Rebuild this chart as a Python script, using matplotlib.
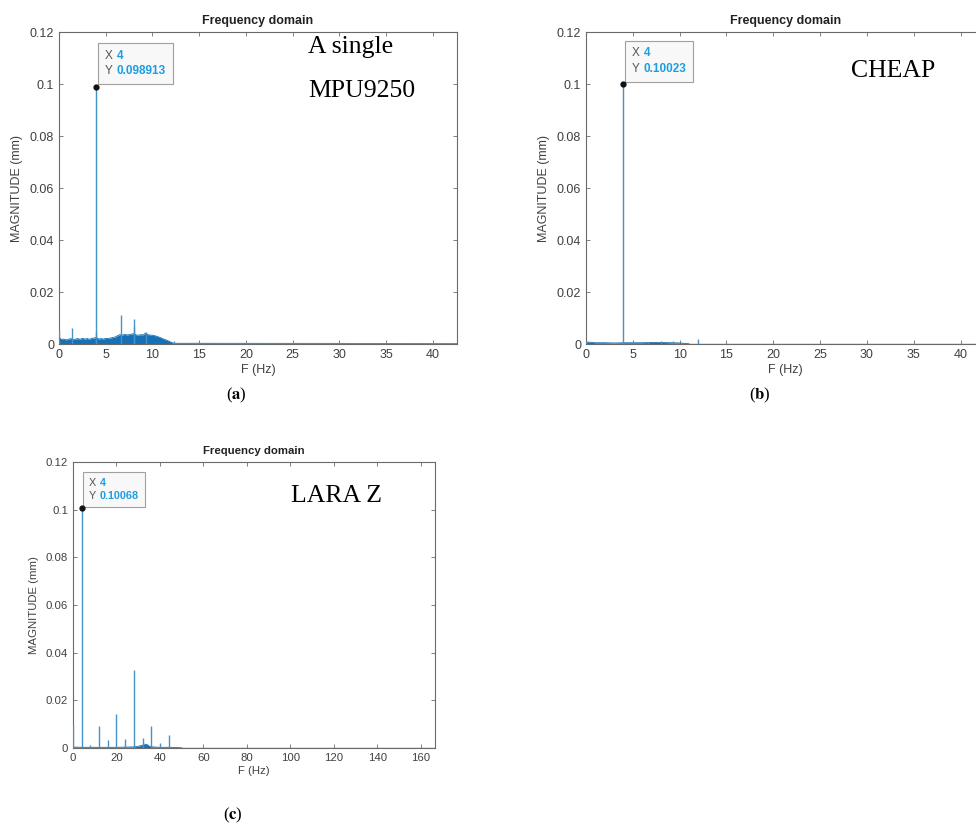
"""Frequency-domain spectra of three sensors (MATLAB-style figure, three panels)."""

import matplotlib
matplotlib.use("Agg")
import matplotlib.pyplot as plt
from matplotlib.offsetbox import AnnotationBbox, HPacker, TextArea
from matplotlib.ticker import FuncFormatter

# ---------------------------------------------------------------------------
# Data
# ---------------------------------------------------------------------------

# (a) single MPU9250: dense noise band envelope (Hz, mm)
floor_a_f = [0, 0.25, 0.5, 0.75, 1.0, 1.25, 1.5, 1.75, 2.0, 2.25, 2.5, 2.75,
             3.0, 3.25, 3.5, 3.75, 4.0, 4.25, 4.5, 4.75, 5.0, 5.25, 5.5, 5.75,
             6.0, 6.25, 6.5, 6.75, 7.0, 7.25, 7.5, 7.75, 8.0, 8.25, 8.5, 8.75,
             9.0, 9.25, 9.5, 9.75, 10.0, 10.25, 10.5, 10.75, 11.0, 11.25, 11.5,
             11.75, 12.0, 12.25, 12.5]
floor_a_m = [0.0026, 0.0017, 0.0019, 0.0016, 0.0018, 0.0021, 0.0017, 0.0019,
             0.0021, 0.0018, 0.0022, 0.0019, 0.0021, 0.0018, 0.0022, 0.0023,
             0.0025, 0.0019, 0.0021, 0.0019, 0.0022, 0.0021, 0.0023, 0.0025,
             0.0027, 0.0032, 0.0036, 0.0034, 0.0037, 0.0035, 0.0036, 0.0038,
             0.0040, 0.0035, 0.0034, 0.0036, 0.0035, 0.0042, 0.0036, 0.0034,
             0.0034, 0.0032, 0.0029, 0.0026, 0.0022, 0.0018, 0.0015, 0.0011,
             0.0007, 0.0003, 0.0001]
peaks_a_f = [0, 1.4, 4, 4, 6.6, 8.0, 8.0, 9.3, 12.3, 15.0]
peaks_a_m = [0.0055, 0.0062, 0.098913, 0.0048, 0.0110, 0.0095, 0.0065, 0.0048,
             0.0012, 0.0008]
tail_a_f = [12.5, 42.6]
tail_a_m = [0.0002, 0.0001]

# (b) CHEAP
floor_b_f = [0, 1, 2, 3, 4, 5, 6, 7, 8, 9, 10, 11]
floor_b_m = [0.0008, 0.0005, 0.0005, 0.0004, 0.0005, 0.0005, 0.0005, 0.0006,
             0.0006, 0.0005, 0.0004, 0.0001]
peaks_b_f = [0, 4, 5, 6.6, 8.0, 9.3, 9.7, 12.0]
peaks_b_m = [0.0012, 0.10023, 0.0012, 0.0008, 0.0012, 0.0012, 0.0009, 0.0018]
tail_b_f = [11, 43]
tail_b_m = [0.0001, 0.0001]

# (c) LARA Z
floor_c_f = [0, 5, 10, 15, 20, 25, 28, 30, 31, 32, 33, 34, 35, 36, 40, 45, 50]
floor_c_m = [0.0004, 0.0003, 0.0003, 0.0003, 0.0003, 0.0004, 0.0005, 0.0007,
             0.0010, 0.0012, 0.0016, 0.0015, 0.0008, 0.0005, 0.0003, 0.0003,
             0.0001]
peaks_c_f = [0, 4, 8, 12, 16, 20, 24, 28, 32, 36, 40, 44]
peaks_c_m = [0.0098, 0.10068, 0.0014, 0.0091, 0.0035, 0.0144, 0.0038, 0.0327,
             0.0042, 0.0091, 0.0021, 0.0056]
tail_c_f = [50, 166.5]
tail_c_m = [0.0001, 0.0001]

tip_a = (4, 0.098913, "4", "0.098913")
tip_b = (4, 0.10023, "4", "0.10023")
tip_c = (4, 0.10068, "4", "0.10068")

xticks_ab = [0, 5, 10, 15, 20, 25, 30, 35, 40]
xticks_c = [0, 20, 40, 60, 80, 100, 120, 140, 160]
yticks = [0, 0.02, 0.04, 0.06, 0.08, 0.1, 0.12]

# ---------------------------------------------------------------------------
# Style
# ---------------------------------------------------------------------------

BLUE_FILL = "#1570b5"
BLUE_LINE = "#4592c8"
TIP_BLUE = "#1d9ee0"
AX_GREY = "#6a6a6a"
TXT_GREY = "#404040"

plt.rcParams.update({
    "font.family": "Liberation Sans",
    "mathtext.fontset": "stix",
    "axes.edgecolor": AX_GREY,
    "axes.linewidth": 0.8,
})


def _matlab_axes(ax, xmax, xticks, fs):
    ax.set_xlim(0, xmax)
    ax.set_ylim(0, 0.12)
    ax.set_xticks(xticks)
    ax.set_yticks(yticks)
    ax.yaxis.set_major_formatter(FuncFormatter(lambda v, p: f"{v:g}"))
    ax.tick_params(direction="in", top=True, right=True, length=3,
                   width=0.6, color=AX_GREY, labelcolor=TXT_GREY,
                   labelsize=fs, pad=3.5)
    ax.set_title("Frequency domain", fontsize=fs, fontweight="bold",
                 color="#222222", pad=6)
    ax.set_xlabel("F (Hz)", fontsize=fs, color=TXT_GREY, labelpad=2)
    ax.set_ylabel("MAGNITUDE (mm)", fontsize=fs, color=TXT_GREY, labelpad=5)


def _spectrum(ax, ff, fm, pf, pm, tf, tm):
    ax.fill_between(ff, 0, fm, color=BLUE_FILL, lw=0, zorder=2)
    ax.plot(ff, fm, color=BLUE_FILL, lw=0.6, zorder=2)
    ax.vlines(pf, 0, pm, color=BLUE_LINE, lw=1.0, zorder=3)
    ax.plot(tf, tm, color=BLUE_LINE, lw=1.0, zorder=2)


def _datatip(ax, tip, fs, off=(2, 3), sep=3, pad=0.55):
    x, y, xs, ys = tip
    ax.plot([x], [y], "o", color="#111111", ms=3.5, zorder=8)
    names = TextArea("X\nY", textprops=dict(color="#555555", fontsize=fs,
                                            linespacing=1.4))
    vals = TextArea(f"{xs}\n{ys}", textprops=dict(color=TIP_BLUE, fontsize=fs,
                                                  fontweight="bold",
                                                  linespacing=1.4))
    box = HPacker(children=[names, vals], align="bottom", pad=0, sep=sep)
    # frame grows outward from the packed box; shift so the frame sits at `off`
    grow = pad * fs * 100 / 72
    ab = AnnotationBbox(box, (x, y), xybox=(off[0] + grow, off[1] + grow),
                        xycoords="data", boxcoords="offset pixels",
                        box_alignment=(0, 0), frameon=True, fontsize=fs,
                        bboxprops=dict(boxstyle=f"square,pad={pad}",
                                       fc="#f8f8f8", ec="#a0a0a0", lw=0.8),
                        annotation_clip=False, zorder=7)
    ax.add_artist(ab)


def _label(ax, x, y, s):
    ax.text(x, y, s, transform=ax.transAxes, family="Liberation Serif",
            fontsize=18.5, color="black", ha="left", va="baseline")


def main():
    fig = plt.figure(figsize=(9.76, 8.25), dpi=100)

    ax_a = fig.add_axes([0.0605, 0.583, 0.4078, 0.378])
    ax_b = fig.add_axes([0.6004, 0.583, 0.4088, 0.378])
    ax_c = fig.add_axes([0.0748, 0.0933, 0.3709, 0.3467])

    _spectrum(ax_a, floor_a_f, floor_a_m, peaks_a_f, peaks_a_m, tail_a_f, tail_a_m)
    _matlab_axes(ax_a, 42.6, xticks_ab, 9)
    _datatip(ax_a, tip_a, 8.5)
    _label(ax_a, 0.626, 0.933, "A single")
    _label(ax_a, 0.626, 0.792, "MPU9250")

    _spectrum(ax_b, floor_b_f, floor_b_m, peaks_b_f, peaks_b_m, tail_b_f, tail_b_m)
    _matlab_axes(ax_b, 42.6, xticks_ab, 9)
    _datatip(ax_b, tip_b, 8.5, off=(2, 2))
    _label(ax_b, 0.663, 0.857, "CHEAP")

    _spectrum(ax_c, floor_c_f, floor_c_m, peaks_c_f, peaks_c_m, tail_c_f, tail_c_m)
    _matlab_axes(ax_c, 166.5, xticks_c, 8.2)
    _datatip(ax_c, tip_c, 7.8, off=(1, 1))
    _label(ax_c, 0.602, 0.859, "LARA Z")

    for x, y, s in [(236, 395, "a"), (760, 395, "b"), (233, 815, "c")]:
        fig.text(x / 976, 1 - y / 825, rf"($\mathbf{{{s}}}$)",
                 family="Liberation Serif", fontsize=12, ha="center",
                 va="center")

    fig.savefig("out.png", dpi=100)
    plt.close(fig)


if __name__ == "__main__":
    main()
